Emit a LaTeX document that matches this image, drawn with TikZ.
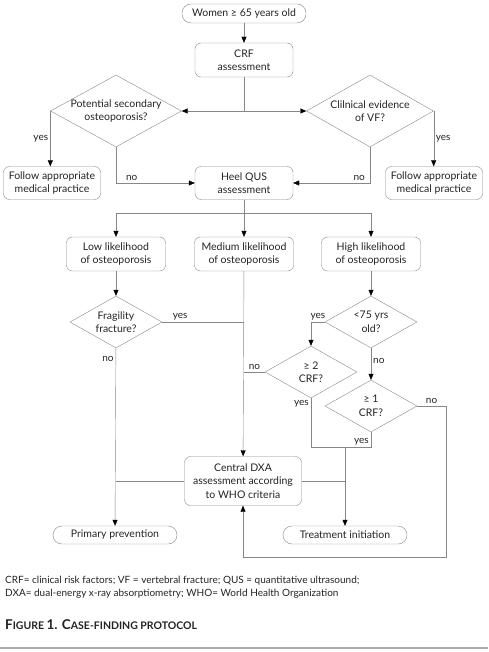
\documentclass[tikz,border=0pt]{standalone}
\usepackage{fontspec}
\setmainfont{Lato}
\usetikzlibrary{arrows.meta,shapes.geometric,positioning}
\definecolor{linegray}{RGB}{135,135,135}
\definecolor{textgray}{RGB}{35,35,35}

\begin{document}
\begin{tikzpicture}[
  x=1pt, y=-1pt,
  font=\fontsize{10.5}{13.5}\selectfont, text=textgray,
  box/.style={draw=linegray, rectangle, rounded corners=6pt,
              inner sep=2pt, align=center},
  pill/.style={draw=linegray, rectangle, rounded corners=9pt,
               inner sep=2pt, minimum width=124pt, align=center},
  gate/.style={draw=linegray, diamond, aspect=1.8, inner sep=-2pt,
               align=center},
  arr/.style={draw=linegray, -{Triangle[length=6pt,width=5pt,black]}},
  line/.style={draw=linegray},
  lbl/.style={font=\fontsize{10}{12}\selectfont, inner sep=2pt}]

\useasboundingbox (0,0) rectangle (488,652);

% Top: entry and risk factor check
\node[pill, minimum height=19pt] (women) at (244,13.5) {Women ≥ 65 years old};
\node[box, minimum width=98pt, minimum height=34pt] (crf) at (244,60) {CRF\\assessment};

\node[gate, minimum width=131pt, minimum height=72pt] (secd) at (116,111)
  {Potential secondary\\osteoporosis?};
\node[gate, minimum width=127pt, minimum height=72pt] (vf) at (370,111)
  {Clilnical evidence\\of VF?};

\node[box, minimum width=97pt, minimum height=33pt] (fol1) at (52,183)
  {Follow appropriate\\medical practice};
\node[box, minimum width=97pt, minimum height=33pt] (fol2) at (434,183)
  {Follow appropriate\\medical practice};
\node[box, minimum width=98pt, minimum height=33pt] (heel) at (244,183)
  {Heel QUS\\assessment};

% Likelihood row
\node[box, minimum width=99pt, minimum height=34pt] (low)  at (116,254)
  {Low likelihood\\of osteoporosis};
\node[box, minimum width=99pt, minimum height=34pt] (med)  at (244,254)
  {Medium likelihood\\of osteoporosis};
\node[box, minimum width=99pt, minimum height=34pt] (high) at (371,254)
  {High likelihood\\of osteoporosis};

% Decisions
\node[gate, minimum width=92pt, minimum height=52pt] (frag) at (116,322)
  {Fragility\\fracture?};
\node[gate, minimum width=92pt, minimum height=52pt] (age)  at (371,322)
  {<75 yrs\\old?};
\node[gate, minimum width=92pt, minimum height=52pt] (crfb) at (311,372)
  {≥ 2\\CRF?};
\node[gate, minimum width=92pt, minimum height=52pt] (crfa) at (371,406)
  {≥ 1\\CRF?};

% Outcomes
\node[box, minimum width=117pt, minimum height=49pt] (dxa) at (243,481)
  {Central DXA\\assessment according\\to WHO criteria};
\node[pill, minimum height=18pt] (prim)  at (115,535) {Primary prevention};
\node[pill, minimum height=18pt] (treat) at (345,535) {Treatment initiation};

% Helper points
\coordinate (split) at (244,213);
\path (crfa.south) ++(0,15) coordinate (jr);
\coordinate (jt) at (treat.north |- jr);
\coordinate (loop) at (446,557);

% Top chain
\draw[arr] (women) -- (crf);
\draw[arr] (crf.south) |- (secd.east);
\draw[arr] (crf.south) |- (vf.west);
\draw[arr] (secd.west) -- node[lbl, left] {yes} (secd.west |- fol1.north);
\draw[arr] (vf.east) -- node[lbl, right] {yes} (vf.east |- fol2.north);
\draw[arr] (secd.south) |- node[lbl, pos=0.6, above] {no} (heel.west);
\draw[arr] (vf.south) |- node[lbl, pos=0.57, above] {no} (heel.east);

% Split to likelihood boxes
\draw[line] (heel) -- (split);
\draw[arr] (split) -| (low);
\draw[arr] (split) -- (med);
\draw[arr] (split) -| (high);

% Low branch
\draw[arr] (low) -- (frag);
\draw[line] (frag.east) -- node[lbl, pos=0.22, above] {yes} (frag.east -| med.south);
\draw[arr] (frag) -- node[lbl, pos=0.06, left] {no} (prim);
\draw[line] (dxa.west) -- (dxa.west -| frag.south);

% Medium branch
\draw[arr] (med) -- (dxa);

% High branch
\draw[arr] (high) -- (age);
\draw[arr] (age.west) -| node[lbl, pos=0.25, above] {yes} (crfb.north);
\draw[arr] (age) -- node[lbl, pos=0.4, right] {no} (crfa);
\draw[line] (crfb.west) -- node[lbl, above] {no} (crfb.west -| med.south);
\draw[line] (crfb.south) node[lbl, below left] {yes} |- (jr) -- (crfa.south);
\node[lbl, above left] (yeslbl) at (jr) {yes};
\draw[arr] (jt) -- (treat);
\draw[line] (dxa.east) -- (jt |- dxa.east);
\draw[arr] (crfa.east) -| node[lbl, pos=0.25, above] {no} (loop) -| (dxa.south);

% Caption
\node[anchor=west, inner sep=0pt, font=\fontsize{10}{12}\selectfont] (note1) at (5,581)
  {CRF= clinical risk factors; VF = vertebral fracture; QUS = quantitative ultrasound;};
\node[anchor=west, inner sep=0pt, font=\fontsize{10}{12}\selectfont] (note2) at (5,594)
  {DXA= dual-energy x-ray absorptiometry; WHO= World Health Organization};
\node[anchor=west, inner sep=0pt, font=\bfseries] (title) at (5,625)
  {{\fontsize{13.5}{15}\selectfont F}{\fontsize{10.5}{15}\selectfont IGURE}
   {\fontsize{13.5}{15}\selectfont 1. C}{\fontsize{10.5}{15}\selectfont ASE-FINDING PROTOCOL}};
\draw[linegray!70, line width=1.2pt] (0,648) -- (488,648);
\end{tikzpicture}
\end{document}
